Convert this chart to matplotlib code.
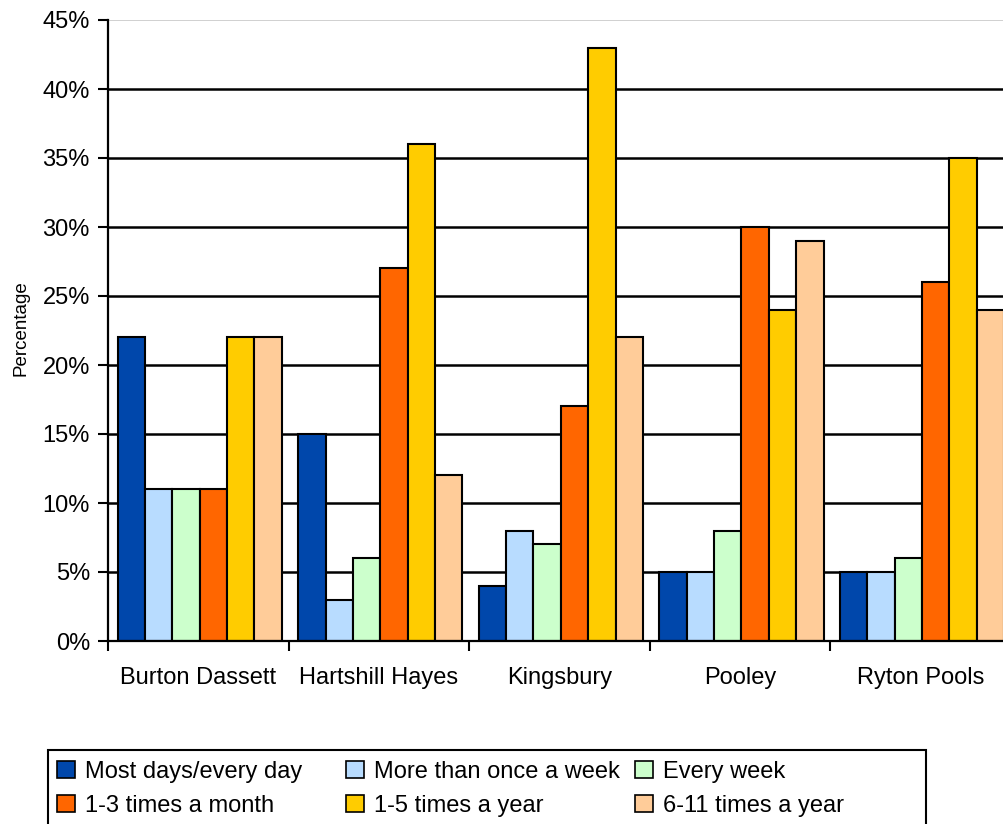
import numpy as np
import matplotlib
matplotlib.use("Agg")
from matplotlib import pyplot as plt
import matplotlib.patches as mpatches

plt.rcParams['font.family'] = ['Liberation Sans', 'DejaVu Sans']

sites = ["Burton Dassett", "Hartshill Hayes", "Kingsbury", "Pooley", "Ryton Pools"]
series = ["Most days/every day", "More than once a week", "Every week",
          "1-3 times a month", "1-5 times a year", "6-11 times a year"]
most_days = [22, 15, 4, 5, 5]
more_than_weekly = [11, 3, 8, 5, 5]
every_week = [11, 6, 7, 8, 6]
monthly = [11, 27, 17, 30, 26]
yearly_1_5 = [22, 36, 43, 24, 35]
yearly_6_11 = [22, 12, 22, 29, 24]
values = [most_days, more_than_weekly, every_week, monthly, yearly_1_5, yearly_6_11]
colours = ["#0047AB", "#B8DCFF", "#CCFFCC", "#FF6600", "#FFCC00", "#FFCC99"]

W, H = 1004, 824
fig = plt.figure(figsize=(W/100, H/100), dpi=100)
ax = fig.add_axes([108/W, 1-641/H, (1011-108)/W, (641-20)/H])

# gridlines (top one is pale, like the plot-area border)
for g in range(5, 45, 5):
    ax.axhline(g, color='black', lw=1.8, zorder=1)
ax.axhline(45, color='#c8c8c8', lw=1.2, zorder=1)

x = np.arange(len(sites))
w = 0.1515
start = -0.5 + 0.053
for k, (vals, col) in enumerate(zip(values, colours)):
    ax.bar(x + start + k*w, vals, width=w, align='edge', color=col,
           edgecolor='black', linewidth=1.5, zorder=2)

ax.set_xlim(-0.5, 4.5)
ax.set_ylim(0, 45)
ax.set_yticks(range(0, 50, 5))
ax.set_yticklabels([f"{v}%" for v in range(0, 50, 5)], fontsize=17)
ax.set_xticks(np.arange(-0.5, 5, 1))
ax.set_xticklabels([])
ax.set_xticks(x, minor=True)
ax.set_xticklabels(sites, minor=True, fontsize=17)
ax.tick_params(axis='x', which='major', length=7, width=1.5, direction='out')
ax.tick_params(axis='x', which='minor', length=0, pad=19)
ax.tick_params(axis='y', length=7, width=1.5, direction='out', pad=6)
for s in ['top', 'right']:
    ax.spines[s].set_visible(False)
ax.spines['left'].set_linewidth(1.6)
ax.spines['bottom'].set_linewidth(1.6)
ax.set_ylabel("Percentage", fontsize=13.5)
ax.yaxis.set_label_coords((30-108)/903, (641-328)/621)

# legend: three equal-width columns, filled row by row, inside one box
handles = [mpatches.Patch(facecolor=c, edgecolor='black', linewidth=1.2, label=l)
           for c, l in zip(colours, series)]
col_x = [57, 346, 635]
for j in range(3):
    lg = fig.legend(handles=[handles[j], handles[j+3]], loc='upper left',
                    bbox_to_anchor=(col_x[j]/W, 1-761/H), borderaxespad=0,
                    borderpad=0, fontsize=17, frameon=False,
                    handlelength=0.75, handleheight=0.75, handletextpad=0.42,
                    labelspacing=0.5)
box = mpatches.Rectangle((48/W, -0.05), (926-48)/W, 0.05+1-750/H,
                         transform=fig.transFigure, fill=False,
                         edgecolor='black', linewidth=1.5)
fig.patches.append(box)

fig.savefig("out.png", dpi=100)
